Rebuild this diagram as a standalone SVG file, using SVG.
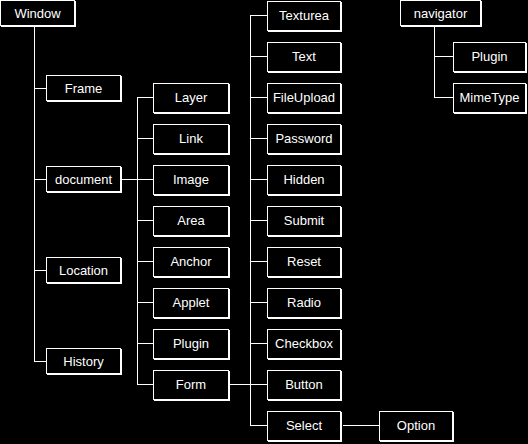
<svg xmlns="http://www.w3.org/2000/svg" width="528" height="444" viewBox="0 0 528 444">
<style>
.sh{fill:#fff}
.bx{fill:#000;stroke:#fff;stroke-width:1}
.t{fill:#fff;font-family:"Liberation Sans",Arial,sans-serif;font-size:13px;text-anchor:middle}
#edges line{stroke:#fff;stroke-width:1}
</style>
<rect x="0" y="0" width="528" height="444" fill="#000"/>
<g id="edges">
<line x1="34.5" y1="27" x2="34.5" y2="362"/>
<line x1="34" y1="88.5" x2="46" y2="88.5"/>
<line x1="34" y1="179.5" x2="46" y2="179.5"/>
<line x1="34" y1="270.5" x2="46" y2="270.5"/>
<line x1="34" y1="361.5" x2="46" y2="361.5"/>
<line x1="122" y1="179.5" x2="153" y2="179.5"/>
<line x1="137.5" y1="97" x2="137.5" y2="385"/>
<line x1="137" y1="97.5" x2="153" y2="97.5"/>
<line x1="137" y1="138.5" x2="153" y2="138.5"/>
<line x1="137" y1="220.5" x2="153" y2="220.5"/>
<line x1="137" y1="261.5" x2="153" y2="261.5"/>
<line x1="137" y1="302.5" x2="153" y2="302.5"/>
<line x1="137" y1="343.5" x2="153" y2="343.5"/>
<line x1="137" y1="384.5" x2="153" y2="384.5"/>
<line x1="230" y1="384.5" x2="267" y2="384.5"/>
<line x1="250.5" y1="15" x2="250.5" y2="426"/>
<line x1="250" y1="15.5" x2="267" y2="15.5"/>
<line x1="250" y1="56.5" x2="267" y2="56.5"/>
<line x1="250" y1="97.5" x2="267" y2="97.5"/>
<line x1="250" y1="138.5" x2="267" y2="138.5"/>
<line x1="250" y1="179.5" x2="267" y2="179.5"/>
<line x1="250" y1="220.5" x2="267" y2="220.5"/>
<line x1="250" y1="261.5" x2="267" y2="261.5"/>
<line x1="250" y1="302.5" x2="267" y2="302.5"/>
<line x1="250" y1="343.5" x2="267" y2="343.5"/>
<line x1="250" y1="425.5" x2="267" y2="425.5"/>
<line x1="343" y1="425.5" x2="379" y2="425.5"/>
<line x1="434.5" y1="27" x2="434.5" y2="98"/>
<line x1="434" y1="56.5" x2="453" y2="56.5"/>
<line x1="434" y1="97.5" x2="453" y2="97.5"/>
</g>
<g id="n-window"><rect class="sh" x="1" y="1" width="75" height="26"/><rect class="bx" x="0.5" y="0.5" width="74" height="25"/><text class="t" x="37.5" y="18">Window</text></g>
<g id="n-frame"><rect class="sh" x="47" y="76" width="75" height="26"/><rect class="bx" x="46.5" y="75.5" width="74" height="25"/><text class="t" x="83.5" y="93">Frame</text></g>
<g id="n-document"><rect class="sh" x="47" y="167" width="75" height="26"/><rect class="bx" x="46.5" y="166.5" width="74" height="25"/><text class="t" x="83.5" y="184">document</text></g>
<g id="n-location"><rect class="sh" x="47" y="258" width="75" height="26"/><rect class="bx" x="46.5" y="257.5" width="74" height="25"/><text class="t" x="83.5" y="275">Location</text></g>
<g id="n-history"><rect class="sh" x="47" y="349" width="75" height="26"/><rect class="bx" x="46.5" y="348.5" width="74" height="25"/><text class="t" x="83.5" y="366">History</text></g>
<g id="n-layer"><rect class="sh" x="154" y="84" width="76" height="30"/><rect class="bx" x="153.5" y="83.5" width="75" height="29"/><text class="t" x="191" y="102">Layer</text></g>
<g id="n-link"><rect class="sh" x="154" y="125" width="76" height="30"/><rect class="bx" x="153.5" y="124.5" width="75" height="29"/><text class="t" x="191" y="143">Link</text></g>
<g id="n-image"><rect class="sh" x="154" y="166" width="76" height="30"/><rect class="bx" x="153.5" y="165.5" width="75" height="29"/><text class="t" x="191" y="184">Image</text></g>
<g id="n-area"><rect class="sh" x="154" y="207" width="76" height="30"/><rect class="bx" x="153.5" y="206.5" width="75" height="29"/><text class="t" x="191" y="225">Area</text></g>
<g id="n-anchor"><rect class="sh" x="154" y="248" width="76" height="30"/><rect class="bx" x="153.5" y="247.5" width="75" height="29"/><text class="t" x="191" y="266">Anchor</text></g>
<g id="n-applet"><rect class="sh" x="154" y="289" width="76" height="30"/><rect class="bx" x="153.5" y="288.5" width="75" height="29"/><text class="t" x="191" y="307">Applet</text></g>
<g id="n-plugin1"><rect class="sh" x="154" y="330" width="76" height="30"/><rect class="bx" x="153.5" y="329.5" width="75" height="29"/><text class="t" x="191" y="348">Plugin</text></g>
<g id="n-form"><rect class="sh" x="154" y="371" width="76" height="30"/><rect class="bx" x="153.5" y="370.5" width="75" height="29"/><text class="t" x="191" y="389">Form</text></g>
<g id="n-texturea"><rect class="sh" x="268" y="2" width="74" height="30"/><rect class="bx" x="267.5" y="1.5" width="73" height="29"/><text class="t" x="304" y="20">Texturea</text></g>
<g id="n-text"><rect class="sh" x="268" y="43" width="74" height="30"/><rect class="bx" x="267.5" y="42.5" width="73" height="29"/><text class="t" x="304" y="61">Text</text></g>
<g id="n-fileupload"><rect class="sh" x="268" y="84" width="74" height="30"/><rect class="bx" x="267.5" y="83.5" width="73" height="29"/><text class="t" x="304" y="102">FileUpload</text></g>
<g id="n-password"><rect class="sh" x="268" y="125" width="74" height="30"/><rect class="bx" x="267.5" y="124.5" width="73" height="29"/><text class="t" x="304" y="143">Password</text></g>
<g id="n-hidden"><rect class="sh" x="268" y="166" width="74" height="30"/><rect class="bx" x="267.5" y="165.5" width="73" height="29"/><text class="t" x="304" y="184">Hidden</text></g>
<g id="n-submit"><rect class="sh" x="268" y="207" width="74" height="30"/><rect class="bx" x="267.5" y="206.5" width="73" height="29"/><text class="t" x="304" y="225">Submit</text></g>
<g id="n-reset"><rect class="sh" x="268" y="248" width="74" height="30"/><rect class="bx" x="267.5" y="247.5" width="73" height="29"/><text class="t" x="304" y="266">Reset</text></g>
<g id="n-radio"><rect class="sh" x="268" y="289" width="74" height="30"/><rect class="bx" x="267.5" y="288.5" width="73" height="29"/><text class="t" x="304" y="307">Radio</text></g>
<g id="n-checkbox"><rect class="sh" x="268" y="330" width="74" height="30"/><rect class="bx" x="267.5" y="329.5" width="73" height="29"/><text class="t" x="304" y="348">Checkbox</text></g>
<g id="n-button"><rect class="sh" x="268" y="371" width="74" height="30"/><rect class="bx" x="267.5" y="370.5" width="73" height="29"/><text class="t" x="304" y="389">Button</text></g>
<g id="n-select"><rect class="sh" x="268" y="412" width="74" height="30"/><rect class="bx" x="267.5" y="411.5" width="73" height="29"/><text class="t" x="304" y="430">Select</text></g>
<g id="n-option"><rect class="sh" x="380" y="412" width="74" height="30"/><rect class="bx" x="379.5" y="411.5" width="73" height="29"/><text class="t" x="416" y="430">Option</text></g>
<g id="n-navigator"><rect class="sh" x="401" y="1" width="81" height="26"/><rect class="bx" x="400.5" y="0.5" width="80" height="25"/><text class="t" x="440.5" y="18">navigator</text></g>
<g id="n-plugin2"><rect class="sh" x="454" y="43" width="73" height="30"/><rect class="bx" x="453.5" y="42.5" width="72" height="29"/><text class="t" x="489.5" y="61">Plugin</text></g>
<g id="n-mimetype"><rect class="sh" x="454" y="84" width="73" height="30"/><rect class="bx" x="453.5" y="83.5" width="72" height="29"/><text class="t" x="489.5" y="102">MimeType</text></g>
</svg>
